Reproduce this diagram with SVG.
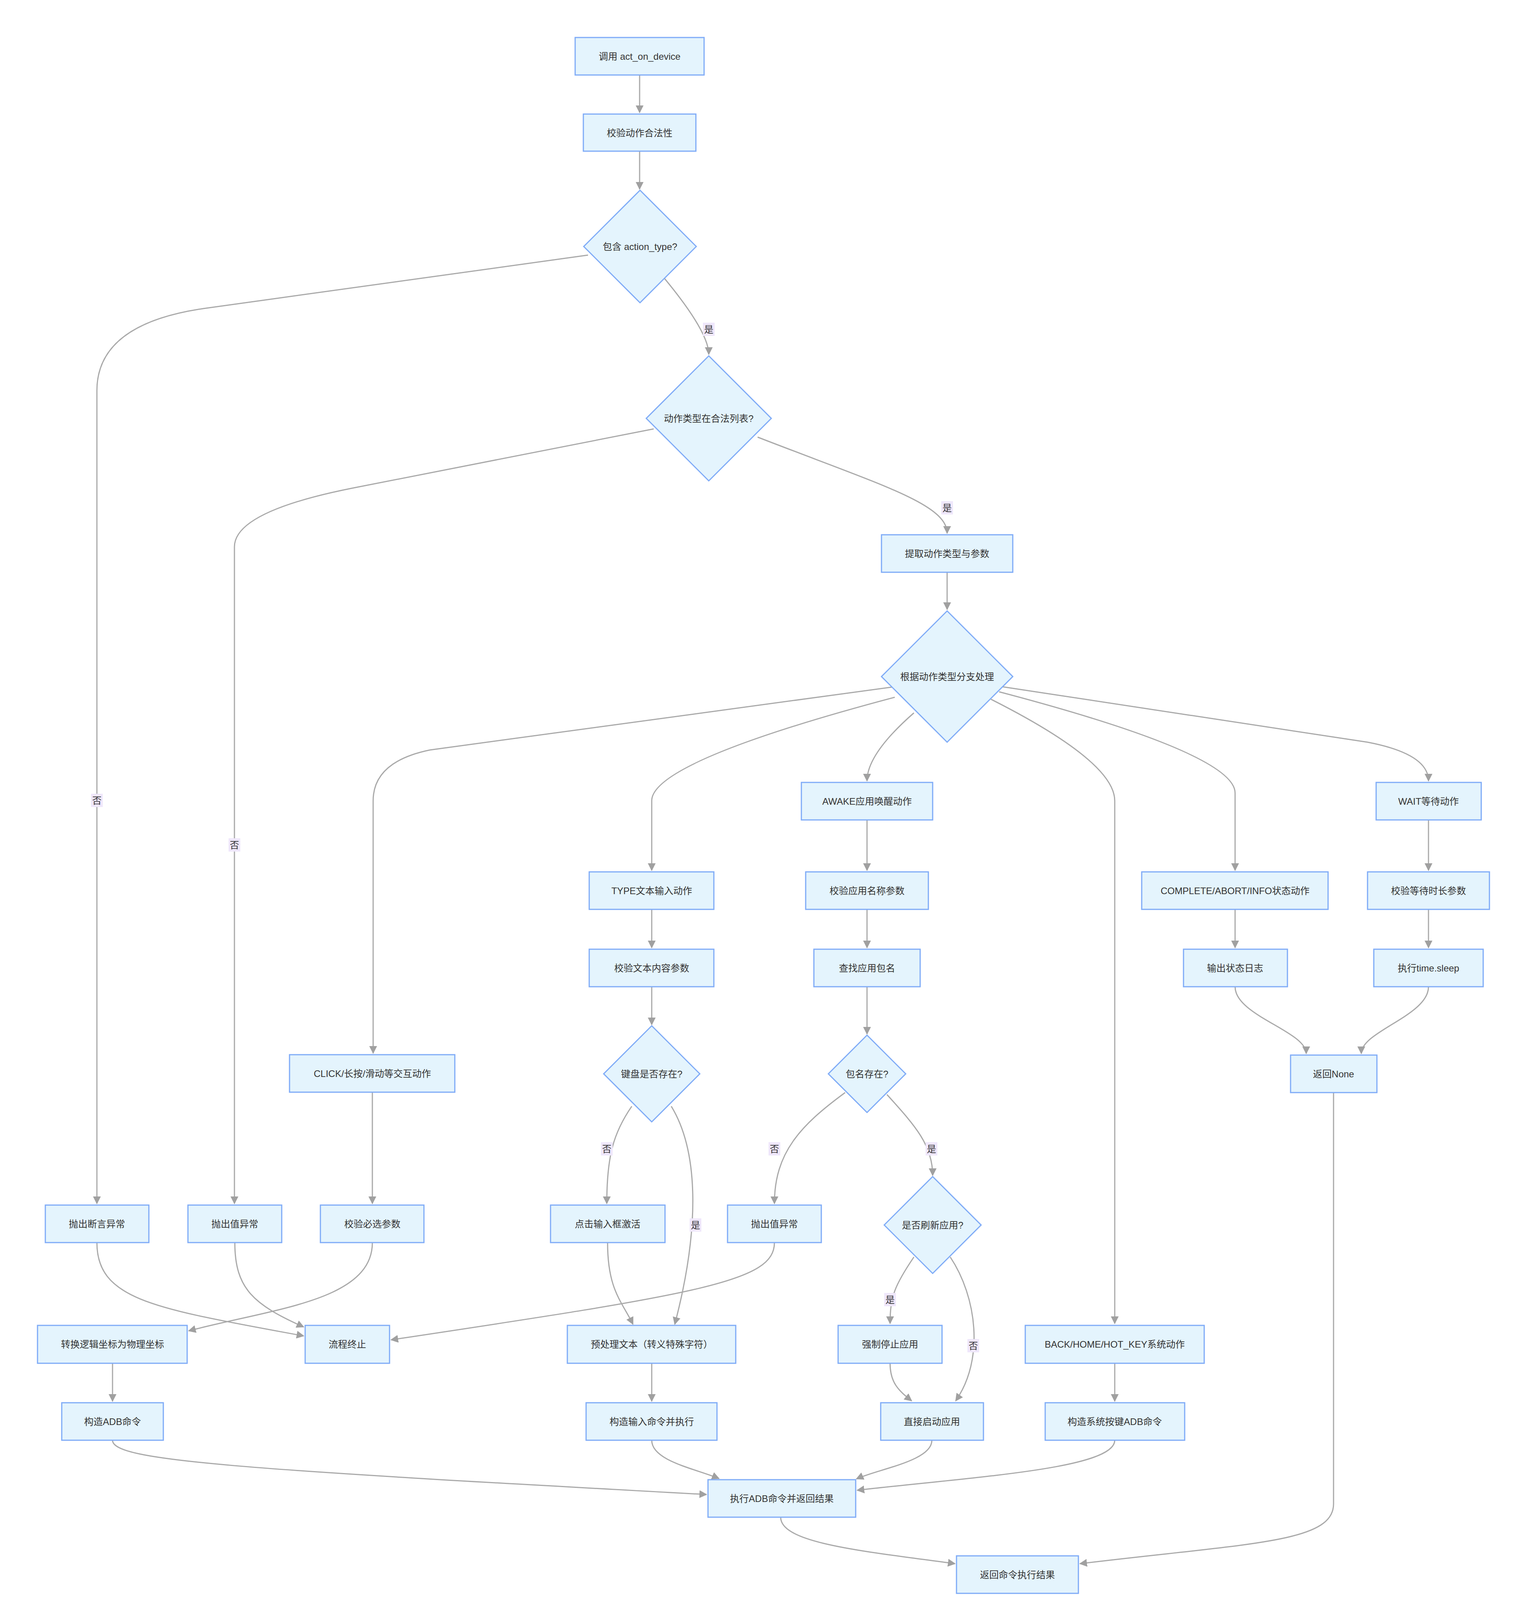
<svg xmlns="http://www.w3.org/2000/svg" width="3903" height="4173" viewBox="0 0 3903 4173">
<style>
.n rect,.n polygon{fill:#e4f4fd;stroke:#7fabf7;stroke-width:3}
text{font-family:"Liberation Sans","Noto Sans CJK SC",sans-serif;font-size:24px;fill:#333;text-anchor:middle;dominant-baseline:central}
.e path{fill:none;stroke:#a9a9a9;stroke-width:3;marker-end:url(#ah)}
.l rect{fill:#efe7fb}
</style>
<defs><marker id="ah" markerUnits="userSpaceOnUse" markerWidth="22" markerHeight="22" refX="18" refY="10" orient="auto"><path d="M0,0 L20,10 L0,20 z" fill="#a0a0a0"/></marker></defs>
<rect width="3903" height="4173" fill="#fff"/>
<g class="e" id="connectors">
<path d="M1637,192 L1637,288"/>
<path d="M1637,387 L1637,484"/>
<path d="M1505,653 L520,790 Q248,830 248,1000 L248,3081"/>
<path d="M1700,712 Q1814,850 1814,907"/>
<path d="M1673,1098 L900,1250 Q600,1310 600,1400 L600,3081"/>
<path d="M1939,1119 C2250,1240 2424,1290 2424,1365"/>
<path d="M2424,1465 L2424,1560"/>
<path d="M2290,1758 L1100,1920 Q955,1950 955,2050 L955,2696"/>
<path d="M2290,1785 Q1668,1950 1668,2050 L1668,2228"/>
<path d="M2339,1825 Q2219,1930 2219,1999"/>
<path d="M2536,1790 Q2853,1950 2853,2050 L2853,3388"/>
<path d="M2557,1771 Q3161,1930 3161,2030 L3161,2228"/>
<path d="M2565,1758 L3500,1900 Q3656,1930 3656,1999"/>
<path d="M2219,2099 L2219,2228"/>
<path d="M2219,2328 L2219,2426"/>
<path d="M2219,2526 L2219,2647"/>
<path d="M1668,2328 L1668,2426"/>
<path d="M1668,2526 L1668,2623"/>
<path d="M1617,2832 C1570,2900 1553,2960 1553,3081"/>
<path d="M1718,2832 C1790,2950 1790,3150 1727,3390"/>
<path d="M2163,2797 C2050,2880 1982,2950 1982,3081"/>
<path d="M2270,2802 C2340,2880 2387,2930 2387,3009"/>
<path d="M3161,2328 L3161,2426"/>
<path d="M3656,2099 L3656,2228"/>
<path d="M3656,2328 L3656,2426"/>
<path d="M3161,2526 C3161,2600 3343,2640 3343,2697"/>
<path d="M3656,2526 C3656,2600 3484,2640 3484,2697"/>
<path d="M953,2796 L953,3081"/>
<path d="M248,3181 C248,3330 400,3350 777,3420"/>
<path d="M601,3181 C601,3300 650,3340 777,3397"/>
<path d="M953,3181 C953,3330 700,3350 483,3407"/>
<path d="M1982,3181 C1982,3280 1800,3310 1001,3430"/>
<path d="M1555,3181 C1555,3300 1590,3330 1620,3390"/>
<path d="M2339,3218 C2290,3290 2278,3320 2278,3388"/>
<path d="M2432,3218 C2500,3320 2520,3480 2446,3586"/>
<path d="M2278,3490 C2278,3540 2300,3560 2333,3586"/>
<path d="M2853,3490 L2853,3587"/>
<path d="M288,3490 L288,3587"/>
<path d="M1668,3490 L1668,3587"/>
<path d="M288,3687 C288,3740 600,3760 1808,3826"/>
<path d="M1668,3687 C1668,3740 1780,3760 1840,3785"/>
<path d="M2385,3687 C2385,3740 2250,3760 2192,3786"/>
<path d="M2853,3687 C2853,3760 2500,3780 2194,3815"/>
<path d="M1998,3884 C1998,3950 2200,3970 2444,4003"/>
<path d="M3413,2797 L3413,3850 C3413,3950 3200,3950 2764,4003"/>
</g>
<g class="l" id="labels">
<rect x="1799" y="826" width="30" height="34"/><text x="1814" y="843">是</text>
<rect x="2409" y="1283" width="30" height="34"/><text x="2424" y="1300">是</text>
<rect x="233" y="2032" width="30" height="34"/><text x="248" y="2049">否</text>
<rect x="585" y="2146" width="30" height="34"/><text x="600" y="2163">否</text>
<rect x="1538" y="2924" width="30" height="34"/><text x="1553" y="2941">否</text>
<rect x="1765" y="3119" width="30" height="34"/><text x="1780" y="3136">是</text>
<rect x="1967" y="2924" width="30" height="34"/><text x="1982" y="2941">否</text>
<rect x="2369" y="2924" width="30" height="34"/><text x="2384" y="2941">是</text>
<rect x="2263" y="3310" width="30" height="34"/><text x="2278" y="3327">是</text>
<rect x="2476" y="3428" width="30" height="34"/><text x="2491" y="3445">否</text>
</g>
<g class="n" id="n1"><rect x="1472" y="96" width="330" height="96"/><text x="1637" y="144">调用 act_on_device</text></g>
<g class="n" id="n2"><rect x="1493" y="292" width="288" height="95"/><text x="1637" y="340">校验动作合法性</text></g>
<g class="n" id="n3"><polygon points="1638,487 1782,631 1638,775 1494,631"/><text x="1638" y="631">包含 action_type?</text></g>
<g class="n" id="n4"><polygon points="1814,911 1974,1071 1814,1231 1654,1071"/><text x="1814" y="1071">动作类型在合法列表?</text></g>
<g class="n" id="n5"><rect x="2256" y="1369" width="336" height="96"/><text x="2424" y="1417">提取动作类型与参数</text></g>
<g class="n" id="n6"><polygon points="2424,1564 2592,1732 2424,1900 2256,1732"/><text x="2424" y="1732">根据动作类型分支处理</text></g>
<g class="n" id="n7"><rect x="2051" y="2003" width="336" height="96"/><text x="2219" y="2051">AWAKE应用唤醒动作</text></g>
<g class="n" id="n8"><rect x="3522" y="2003" width="269" height="96"/><text x="3656" y="2051">WAIT等待动作</text></g>
<g class="n" id="n9"><rect x="1508" y="2232" width="319" height="96"/><text x="1668" y="2280">TYPE文本输入动作</text></g>
<g class="n" id="n10"><rect x="2062" y="2232" width="314" height="96"/><text x="2219" y="2280">校验应用名称参数</text></g>
<g class="n" id="n11"><rect x="2922" y="2232" width="477" height="96"/><text x="3161" y="2280">COMPLETE/ABORT/INFO状态动作</text></g>
<g class="n" id="n12"><rect x="3500" y="2232" width="312" height="96"/><text x="3656" y="2280">校验等待时长参数</text></g>
<g class="n" id="n13"><rect x="1508" y="2430" width="319" height="96"/><text x="1668" y="2478">校验文本内容参数</text></g>
<g class="n" id="n14"><rect x="2083" y="2430" width="272" height="96"/><text x="2219" y="2478">查找应用包名</text></g>
<g class="n" id="n15"><rect x="3029" y="2430" width="266" height="96"/><text x="3161" y="2478">输出状态日志</text></g>
<g class="n" id="n16"><rect x="3516" y="2430" width="280" height="96"/><text x="3656" y="2478">执行time.sleep</text></g>
<g class="n" id="n17"><rect x="741" y="2700" width="423" height="96"/><text x="953" y="2748">CLICK/长按/滑动等交互动作</text></g>
<g class="n" id="n18"><polygon points="1668,2626 1791,2749 1668,2872 1545,2749"/><text x="1668" y="2749">键盘是否存在?</text></g>
<g class="n" id="n19"><polygon points="2219,2650 2318,2749 2219,2848 2120,2749"/><text x="2219" y="2749">包名存在?</text></g>
<g class="n" id="n20"><rect x="3303" y="2701" width="221" height="96"/><text x="3413" y="2749">返回None</text></g>
<g class="n" id="n21"><rect x="116" y="3085" width="265" height="96"/><text x="248" y="3133">抛出断言异常</text></g>
<g class="n" id="n22"><rect x="481" y="3085" width="240" height="96"/><text x="601" y="3133">抛出值异常</text></g>
<g class="n" id="n23"><rect x="820" y="3085" width="265" height="96"/><text x="953" y="3133">校验必选参数</text></g>
<g class="n" id="n24"><rect x="1409" y="3085" width="293" height="96"/><text x="1555" y="3133">点击输入框激活</text></g>
<g class="n" id="n25"><rect x="1862" y="3085" width="240" height="96"/><text x="1982" y="3133">抛出值异常</text></g>
<g class="n" id="n26"><polygon points="2387,3012 2511,3136 2387,3260 2263,3136"/><text x="2387" y="3136">是否刷新应用?</text></g>
<g class="n" id="n27"><rect x="96" y="3393" width="383" height="97"/><text x="288" y="3441">转换逻辑坐标为物理坐标</text></g>
<g class="n" id="n28"><rect x="781" y="3393" width="216" height="97"/><text x="889" y="3441">流程终止</text></g>
<g class="n" id="n29"><rect x="1452" y="3393" width="431" height="97"/><text x="1668" y="3441">预处理文本（转义特殊字符）</text></g>
<g class="n" id="n30"><rect x="2145" y="3393" width="266" height="97"/><text x="2278" y="3441">强制停止应用</text></g>
<g class="n" id="n31"><rect x="2624" y="3393" width="458" height="97"/><text x="2853" y="3441">BACK/HOME/HOT_KEY系统动作</text></g>
<g class="n" id="n32"><rect x="158" y="3591" width="260" height="96"/><text x="288" y="3639">构造ADB命令</text></g>
<g class="n" id="n33"><rect x="1500" y="3591" width="335" height="96"/><text x="1668" y="3639">构造输入命令并执行</text></g>
<g class="n" id="n34"><rect x="2254" y="3591" width="263" height="96"/><text x="2385" y="3639">直接启动应用</text></g>
<g class="n" id="n35"><rect x="2675" y="3591" width="357" height="96"/><text x="2853" y="3639">构造系统按键ADB命令</text></g>
<g class="n" id="n36"><rect x="1812" y="3788" width="378" height="96"/><text x="2001" y="3836">执行ADB命令并返回结果</text></g>
<g class="n" id="n37"><rect x="2448" y="3983" width="312" height="96"/><text x="2604" y="4031">返回命令执行结果</text></g>
</svg>
